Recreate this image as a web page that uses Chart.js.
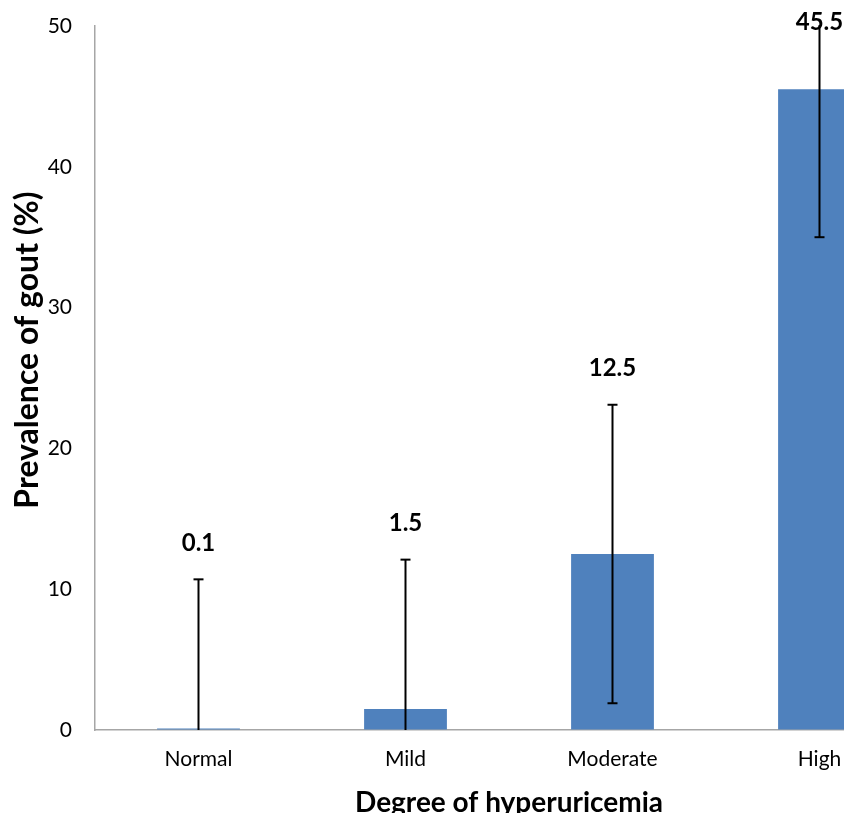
<!DOCTYPE html>
<html>
<head>
<meta charset="utf-8">
<script src="https://cdn.jsdelivr.net/npm/chart.js@4"></script>
<style>
  html, body { margin: 0; padding: 0; background: #fff; }
  #wrap { width: 844px; height: 813px; overflow: hidden; position: relative; }
  canvas { display: block; }
</style>
</head>
<body>
<div id="wrap"><canvas id="gout-chart" width="940" height="830"></canvas></div>
<script>
const categories = ["Normal", "Mild", "Moderate", "High"];
const prevalence = [0.1, 1.5, 12.5, 45.5];
const errLow = [0, 0, 1.9, 35.0];
const errHigh = [10.7, 12.1, 23.1, 56.0];
const yTicks = [0, 10, 20, 30, 40, 50];
const yTitle = "Prevalence of gout (%)";

const FONT = "Lato, 'Open Sans', sans-serif";

// error bars + value labels drawn on top of the bars
const errorBarPlugin = {
  id: "errorBars",
  afterDatasetsDraw(chart) {
    const ctx = chart.ctx;
    const yScale = chart.scales.y;
    const area = chart.chartArea;
    const meta = chart.getDatasetMeta(0);
    ctx.save();
    ctx.beginPath();
    ctx.rect(area.left, area.top - 1, area.right - area.left, area.bottom - area.top + 1);
    ctx.clip();
    ctx.strokeStyle = "#000";
    ctx.lineWidth = 2;
    meta.data.forEach((bar, i) => {
      const x = bar.x;
      const yLo = yScale.getPixelForValue(errLow[i]);
      const yHi = yScale.getPixelForValue(errHigh[i]);
      ctx.beginPath();
      ctx.moveTo(x, yLo);
      ctx.lineTo(x, yHi);
      ctx.stroke();
      const cap = 5;
      if (errLow[i] > yScale.min) {
        ctx.beginPath();
        ctx.moveTo(x - cap, yLo);
        ctx.lineTo(x + cap, yLo);
        ctx.stroke();
      }
      if (errHigh[i] < yScale.max) {
        ctx.beginPath();
        ctx.moveTo(x - cap, yHi);
        ctx.lineTo(x + cap, yHi);
        ctx.stroke();
      }
    });
    ctx.restore();

    ctx.save();
    ctx.fillStyle = "#000";
    ctx.font = "bold 24px " + FONT;
    ctx.textAlign = "center";
    ctx.textBaseline = "middle";
    meta.data.forEach((bar, i) => {
      const top = yScale.getPixelForValue(Math.min(errHigh[i], yScale.max));
      const y = Math.max(top - 36, 22);
      ctx.fillText(String(prevalence[i]), bar.x, y);
    });
    ctx.restore();
  },
  afterDraw(chart) {
    // y axis title, sits a bit above the middle of the axis like the original
    const ctx = chart.ctx;
    const area = chart.chartArea;
    ctx.save();
    ctx.translate(28, (area.top + area.bottom) / 2 - 28);
    ctx.rotate(-Math.PI / 2);
    ctx.fillStyle = "#000";
    ctx.font = "bold 32px " + FONT;
    ctx.textAlign = "center";
    ctx.textBaseline = "middle";
    ctx.fillText(yTitle, 0, 0);
    ctx.restore();
  },
};

const ctx = document.getElementById("gout-chart");
new Chart(ctx, {
  type: "bar",
  data: {
    labels: categories,
    datasets: [
      {
        data: prevalence,
        backgroundColor: "#4F81BD",
        borderWidth: 0,
        categoryPercentage: 1.0,
        barPercentage: 0.4,
      },
    ],
  },
  options: {
    responsive: false,
    animation: false,
    layout: { padding: { top: 26, right: 17, left: 0, bottom: 0 } },
    plugins: {
      legend: { display: false },
      tooltip: { enabled: false },
    },
    scales: {
      x: {
        z: 1,
        grid: { drawOnChartArea: false, drawTicks: false },
        border: { color: "#a6a6a6", width: 1.5 },
        ticks: { color: "#000", font: { family: FONT, size: 21 }, padding: 17 },
        title: {
          display: true,
          text: "Degree of hyperuricemia",
          color: "#000",
          font: { family: FONT, size: 28, weight: "bold" },
          padding: { top: 0, bottom: 10 },
        },
        afterFit(scale) {
          scale.height = 100;
          scale.paddingLeft = 0;
          scale.paddingRight = 0;
        },
      },
      y: {
        min: 0,
        max: 50,
        afterBuildTicks(scale) {
          scale.ticks = yTicks.map((v) => ({ value: v }));
        },
        grid: { drawOnChartArea: false, drawTicks: false },
        border: { color: "#a6a6a6", width: 1.5 },
        ticks: { color: "#000", font: { family: FONT, size: 21 }, padding: 23 },
        title: { display: false },
        afterFit(scale) {
          scale.width = 95;
          scale.paddingTop = 0;
          scale.paddingBottom = 0;
        },
      },
    },
  },
  plugins: [errorBarPlugin],
});
</script>
</body>
</html>
